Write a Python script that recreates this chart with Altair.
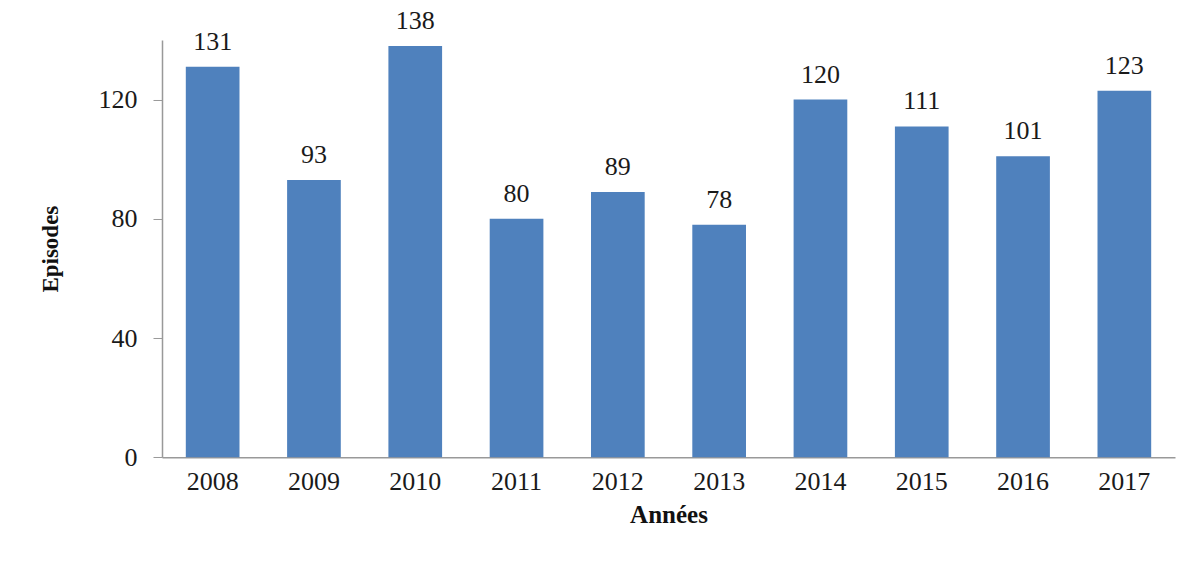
import altair as alt
import pandas as pd

years = ["2008", "2009", "2010", "2011", "2012", "2013", "2014", "2015", "2016", "2017"]
episodes = [131, 93, 138, 80, 89, 78, 120, 111, 101, 123]

df = pd.DataFrame({"Année": years, "Episodes": episodes})

font = "Liberation Serif"

x_enc = alt.X("Année:N", sort=years,
              scale=alt.Scale(paddingInner=0.47, paddingOuter=0.235),
              axis=alt.Axis(title="Années", labelAngle=0, ticks=False, labelPadding=11,
                            labelFontSize=26, labelFont=font, labelColor="#1a1a1a",
                            titleFont=font, titleFontSize=25, titleFontWeight="bold",
                            titlePadding=8, titleColor="#111",
                            domainColor="#999", domainWidth=1.5))
y_enc = alt.Y("Episodes:Q",
              scale=alt.Scale(domain=[0, 140], nice=False),
              axis=alt.Axis(title="Episodes", values=[0, 40, 80, 120], grid=False,
                            tickSize=9, tickColor="#999", labelPadding=16,
                            labelFontSize=26, labelFont=font, labelColor="#1a1a1a",
                            titleFont=font, titleFontSize=23, titleFontWeight="bold",
                            titlePadding=36, titleColor="#111",
                            domainColor="#999", domainWidth=1.5))

bars = alt.Chart(df).mark_bar(color="#4F81BD").encode(x=x_enc, y=y_enc)
labels = alt.Chart(df).mark_text(
    dy=-12, baseline="bottom", fontSize=26, color="#1a1a1a",
    font="serif", fontWeight="normal",
).encode(
    x=alt.X("Année:N", sort=years),
    y=alt.Y("Episodes:Q"),
    text=alt.Text("Episodes:Q"),
)

chart = alt.layer(bars, labels).properties(
    width=1013, height=417.3,
    autosize=alt.AutoSizeParams(type="none"),
    padding={"left": 162, "top": 40, "right": 15, "bottom": 105},
    background="white",
).configure(font=font).configure_view(stroke=None, strokeWidth=0).configure_text(font="serif")

chart.save("out.html", embed_options={"renderer": "svg", "actions": False})
